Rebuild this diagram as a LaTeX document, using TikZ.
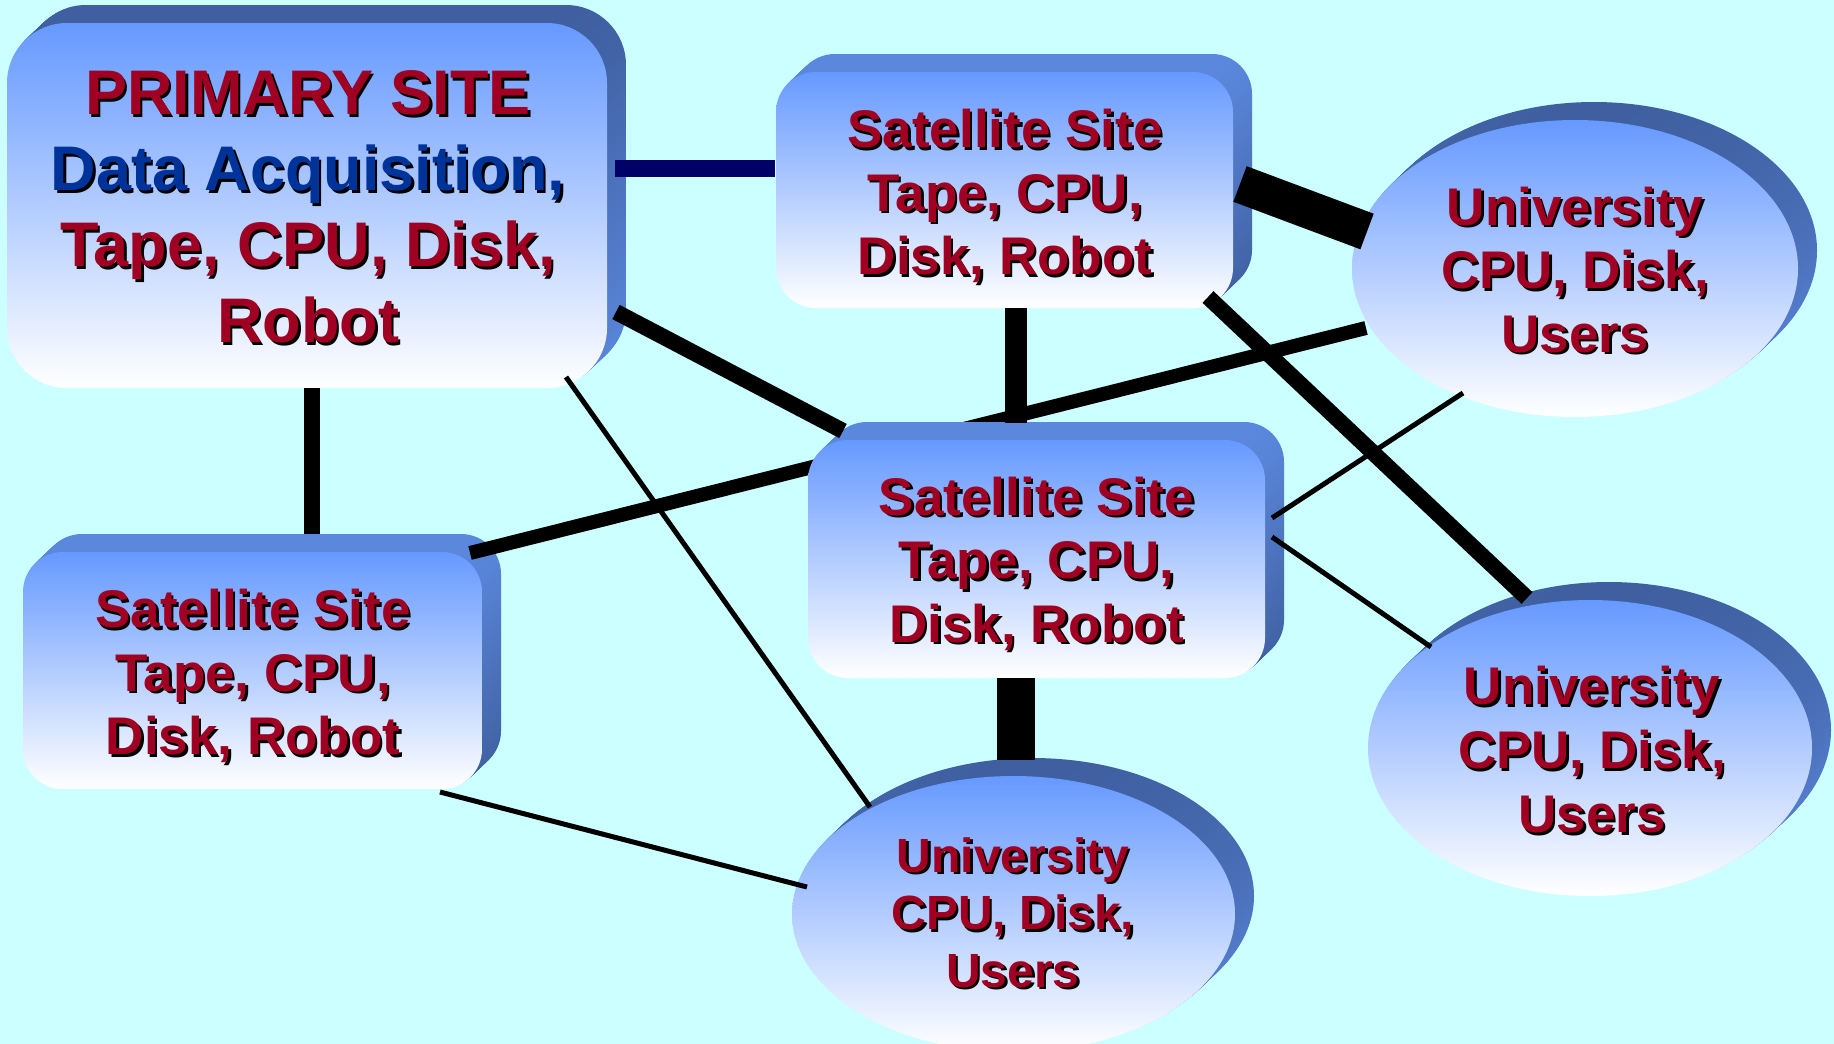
\documentclass[tikz,border=0pt]{standalone}
\usepackage{fontspec}
\setmainfont{Liberation Sans}
\definecolor{bgc}{HTML}{CCFFFF}
\definecolor{sred}{HTML}{A00021}
\definecolor{sblue}{HTML}{003399}
\definecolor{lnavy}{HTML}{000066}
\definecolor{ftop}{HTML}{6699FF}
\definecolor{sideLight}{HTML}{5B88DD}
\definecolor{sideDark}{HTML}{3F5FA0}

\newcommand\hlblack[2]{#2}
\newcommand\hlcolor[2]{\textcolor{#1}{#2}}
\let\hl\hlcolor

\tikzset{
  frontface/.style={top color=ftop, bottom color=white},
  sidesat/.style={top color=sideLight, bottom color=sideDark},
  sideuni/.style={top color=sideDark, bottom color=sideLight},
  lbl/.style={align=center, inner sep=0pt, text=sred},
  thinlink/.style={line width=5pt, draw=black},
  midlink/.style={line width=16pt, draw=black},
  navylink/.style={line width=17pt, draw=lnavy},
}

% rounded 3D box: x1,y1,x2,y2,radius,side style
\newcommand\rrbox[6]{%
  \foreach \k in {18,...,1}{%
    \shade[#6, shift={(\k*19/18,-\k)}, rounded corners=#5pt] (#1,#2) rectangle (#3,#4);}
  \shade[frontface, rounded corners=#5pt] (#1,#2) rectangle (#3,#4);
}
% 3D ellipse: cx,cy,rx,ry
\newcommand\ellbox[4]{%
  \foreach \k in {18,...,1}{%
    \shade[sideuni, shift={(\k*19/18,-\k)}] (#1,#2) ellipse [x radius=#3pt, y radius=#4pt];}
  \shade[frontface] (#1,#2) ellipse [x radius=#3pt, y radius=#4pt];
}
% text with drop shadow: name, position, size, skip, text
\newcommand\sitetext[5]{%
  \global\let\hl\hlblack
  \node[lbl, text=black, font=\bfseries\fontsize{#3}{#4}\selectfont] (#1-shadow) at ([shift={(2.5,2.5)}]#2) {#5};
  \global\let\hl\hlcolor
  \node[lbl, font=\bfseries\fontsize{#3}{#4}\selectfont] (#1) at (#2) {#5};
}

\begin{document}
\begin{tikzpicture}[x=1pt, y=-1pt]
\clip (0,0) rectangle (1834,1044);
\fill[bgc] (0,0) rectangle (1834,1044);

% connector end points
\coordinate (pr-s1) at (615,168);   \coordinate (s1-pr) at (775,168);
\coordinate (pr-s2) at (616,312);   \coordinate (s2-pr) at (843,431);
\coordinate (pr-s3) at (311.5,388); \coordinate (s3-pr) at (311.5,534);
\coordinate (pr-u3) at (566,377);   \coordinate (u3-pr) at (870,807);
\coordinate (s1-u1) at (1240,184);  \coordinate (u1-s1) at (1367,231.5);
\coordinate (s1-s2) at (1016,308);  \coordinate (s2-s1) at (1016,423);
\coordinate (s1-u2) at (1208,297);  \coordinate (u2-s1) at (1527,598);
\coordinate (s3-u1) at (470,553);   \coordinate (u1-s3) at (1366,328);
\coordinate (s3-u3) at (440,792);   \coordinate (u3-s3) at (807,887);
\coordinate (s2-u3) at (1016,678);  \coordinate (u3-s2) at (1016,760);
\coordinate (s2-u1) at (1272,518);  \coordinate (u1-s2) at (1463,393);
\coordinate (s2-u2) at (1272,537);  \coordinate (u2-s2) at (1431,647);

% shapes
\rrbox{7}{23}{607}{388}{60}{sideuni}
\rrbox{776}{72}{1233}{308}{40}{sidesat}
\rrbox{23}{552}{482}{789}{40}{sidesat}
\ellbox{1575}{268.5}{223}{148.5}
\ellbox{1590}{748}{222}{148}
\ellbox{1013.5}{914}{221.5}{138}

% line that runs behind the middle satellite site
\draw[line width=14pt] (s3-u1) -- (u1-s3);

\rrbox{808}{440}{1265}{678}{40}{sidesat}

% connectors on top
\draw[navylink] (pr-s1) -- (s1-pr);
\draw[midlink] (pr-s2) -- (s2-pr);
\draw[midlink] (pr-s3) -- (s3-pr);
\draw[thinlink] (pr-u3) -- (u3-pr);
\draw[line width=38pt] (s1-u1) -- (u1-s1);
\draw[line width=22pt] (s1-s2) -- (s2-s1);
\draw[midlink] (s1-u2) -- (u2-s1);
\draw[thinlink] (s3-u3) -- (u3-s3);
\draw[line width=38pt] (s2-u3) -- (u3-s2);
\draw[thinlink] (s2-u1) -- (u1-s2);
\draw[thinlink] (s2-u2) -- (u2-s2);

% labels
\sitetext{pri}{308,207}{63}{76}{PRIMARY SITE\\\hl{sblue}{Data Acquisition,}\\Tape, CPU, Disk,\\Robot}
\sitetext{sat1}{1005,196}{53}{63.5}{Satellite Site\\Tape, CPU,\\Disk, Robot}
\sitetext{sat2}{1036.5,563.5}{53}{63.5}{Satellite Site\\Tape, CPU,\\Disk, Robot}
\sitetext{sat3}{253,676}{53}{63.5}{Satellite Site\\Tape, CPU,\\Disk, Robot}
\sitetext{uni1}{1575,270}{53}{63.5}{University\\CPU, Disk,\\Users}
\sitetext{uni2}{1592,750}{53}{64}{University\\CPU, Disk,\\Users}
\sitetext{uni3}{1013,912.5}{48}{57.5}{University\\CPU, Disk,\\Users}
\end{tikzpicture}
\end{document}
